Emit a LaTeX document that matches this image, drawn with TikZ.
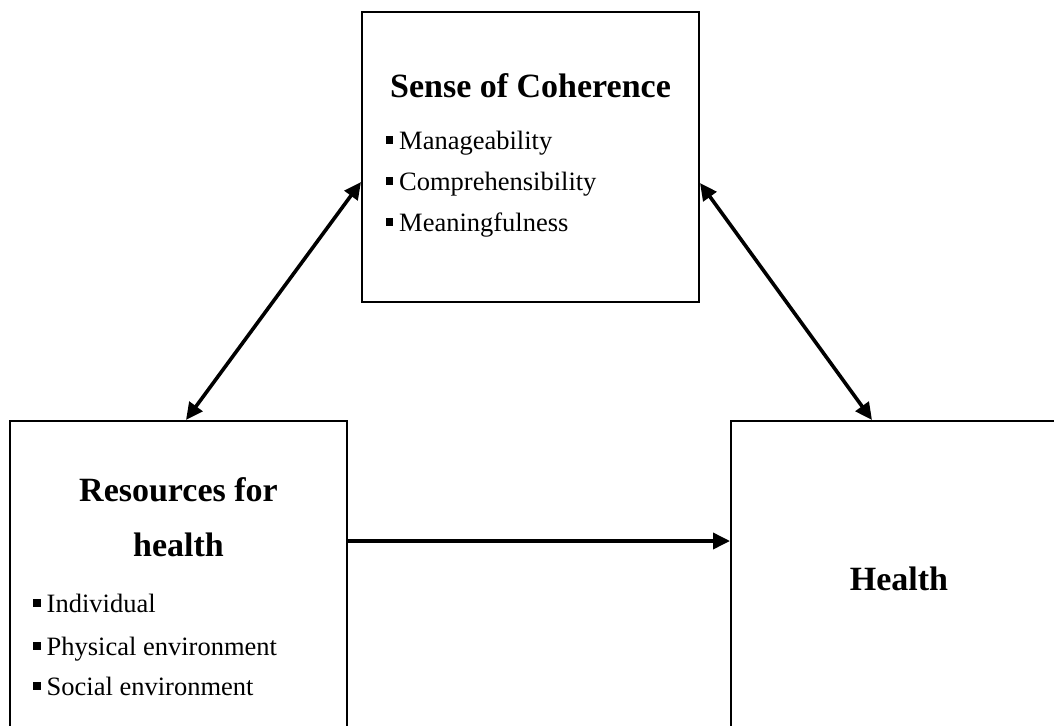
\documentclass[tikz,border=0pt]{standalone}
\usepackage{fontspec}
\setmainfont{Liberation Serif}
\usetikzlibrary{arrows.meta}
\newcommand\bul{\raisebox{5.5pt}{\rule{7.5pt}{7.5pt}}\hspace{6pt}}
\begin{document}
\begin{tikzpicture}[x=1pt,y=-1pt,
  boxnode/.style={draw,line width=2pt,inner sep=0pt,rectangle},
  title/.style={anchor=base,inner sep=0pt,font=\fontsize{34}{40}\selectfont\bfseries},
  item/.style={anchor=base west,inner sep=0pt,font=\fontsize{26.5}{30}\selectfont},
  conn/.style={line width=3.6pt,{Triangle[length=17pt,width=16pt]}-{Triangle[length=17pt,width=16pt]}},
  oneway/.style={line width=3.6pt,-{Triangle[length=17pt,width=16pt]}}]
\useasboundingbox (0,0) rectangle (1054,725);
\clip (0,0) rectangle (1054,725);
\fill[white] (0,0) rectangle (1054,725);
% boxes
\node[boxnode,minimum width=337pt,minimum height=290pt] (sc) at (530.5,157) {};
\node[boxnode,minimum width=337pt,minimum height=340pt] (rh) at (178.5,591) {};
\node[boxnode,minimum width=340pt,minimum height=340pt] (he) at (901,591) {};
% titles
\node[title] (sct) at (530.5,97) {Sense of Coherence};
\node[title] (rht1) at (178.5,501.7) {Resources for};
\node[title] (rht2) at (178.5,556.7) {health};
\node[title] (het) at (899,590) {Health};
% items
\node[item] (i1) at (385.5,149) {\bul Manageability};
\node[item] (i2) at (385.5,190) {\bul Comprehensibility};
\node[item] (i3) at (385.5,231) {\bul Meaningfulness};
\node[item] (r1) at (33,612) {\bul Individual};
\node[item] (r2) at (33,655) {\bul Physical environment};
\node[item] (r3) at (33,695) {\bul Social environment};
% connectors
\draw[conn] ([xshift=177pt]rh.north west) -- ([yshift=-25pt]sc.west);
\draw[conn] ([yshift=-26pt]sc.east) -- ([xshift=142pt]he.north west);
\draw[oneway] ([yshift=50pt]rh.east) -- ([yshift=50pt]he.west);
\end{tikzpicture}
\end{document}
